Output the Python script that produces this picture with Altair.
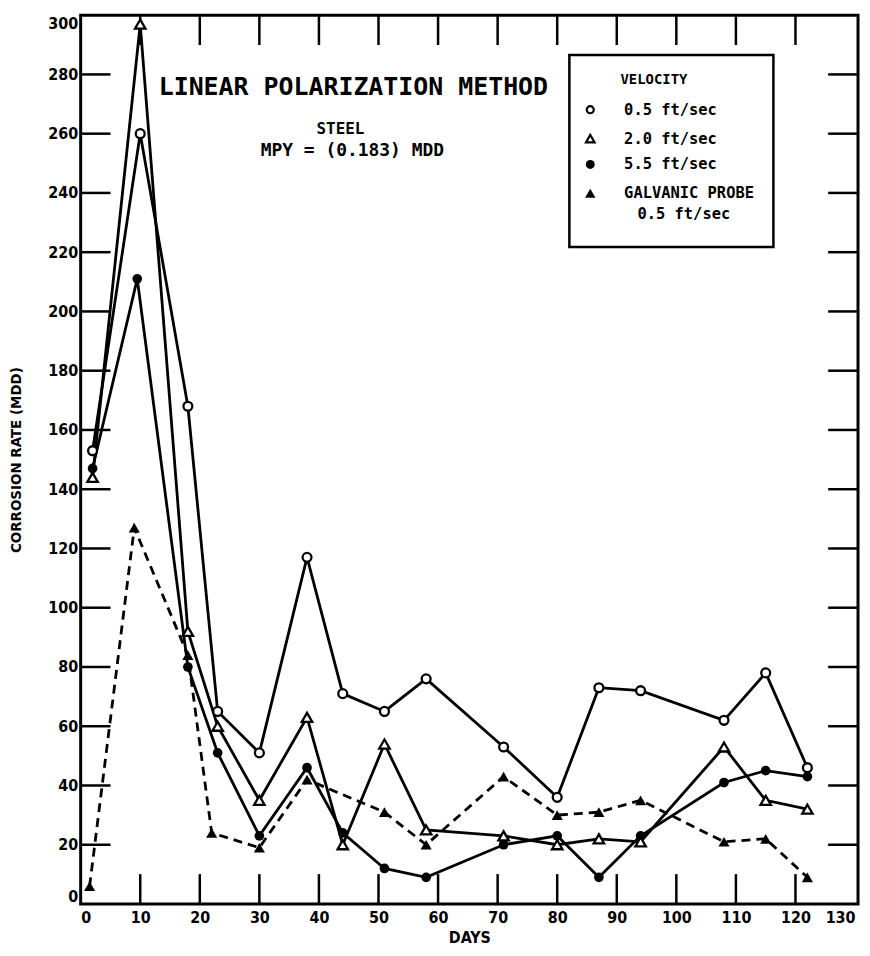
import altair as alt
import pandas as pd

# ---------------- data ----------------
days_05 = [2, 10, 18, 23, 30, 38, 44, 51, 58, 71, 80, 87, 94, 108, 115, 122]
mdd_05 = [153, 260, 168, 65, 51, 117, 71, 65, 76, 53, 36, 73, 72, 62, 78, 46]

days_20 = [2, 10, 18, 23, 30, 38, 44, 51, 58, 71, 80, 87, 94, 108, 115, 122]
mdd_20 = [144, 297, 92, 60, 35, 63, 20, 54, 25, 23, 20, 22, 21, 53, 35, 32]

days_55 = [2, 9.5, 18, 23, 30, 38, 44, 51, 58, 71, 80, 87, 94, 108, 115, 122]
mdd_55 = [147, 211, 80, 51, 23, 46, 24, 12, 9, 20, 23, 9, 23, 41, 45, 43]

days_gp = [1.5, 9, 18, 22, 30, 38, 51, 58, 71, 80, 87, 94, 108, 115, 122]
mdd_gp = [6, 127, 84, 24, 19, 42, 31, 20, 43, 30, 31, 35, 21, 22, 9]

x_labels = list(range(0, 131, 10))
y_labels = list(range(0, 301, 20))
x_inner_ticks = list(range(10, 121, 10))
y_inner_ticks = list(range(20, 281, 20))

title_text = "LINEAR POLARIZATION METHOD"
sub1_text = "STEEL"
sub2_text = "MPY = (0.183) MDD"
legend_title = "VELOCITY"
legend_labels = ["0.5 ft/sec", "2.0 ft/sec", "5.5 ft/sec", "GALVANIC PROBE", "0.5 ft/sec"]

# ---------------- layout ----------------
W, H = 781, 893
TICK = 30
AX_FONT = "DejaVu Sans Condensed, Liberation Sans Narrow, DejaVu Sans"
MONO = "DejaVu Sans Mono"


def X(field):
    return alt.X(
        f"{field}:Q",
        scale=alt.Scale(domain=[0, 130.5], nice=False, zero=False),
        axis=alt.Axis(
            values=x_labels, title="DAYS", grid=False, domain=False, ticks=False,
            tickSize=0, labelPadding=6, labelFlush=6, labelFont=AX_FONT,
            labelFontSize=16, labelFontWeight="bold", labelColor="black",
            titleFont=AX_FONT, titleFontSize=16, titleFontWeight="bold",
            titleColor="black", titlePadding=4,
        ),
    )


def Y(field):
    return alt.Y(
        f"{field}:Q",
        scale=alt.Scale(domain=[0, 300], nice=False),
        axis=alt.Axis(
            values=y_labels, title="CORROSION RATE (MDD)", grid=False, domain=False,
            ticks=False, tickSize=0, labelPadding=3, labelFlush=True, labelFont=AX_FONT,
            labelFontSize=16, labelFontWeight="bold", labelColor="black",
            titleFont=AX_FONT, titleFontSize=15, titleFontWeight="bold",
            titleColor="black", titlePadding=24,
        ),
    )


def series_df(days, vals):
    return pd.DataFrame({"day": days, "mdd": vals})


layers = []

# inner ticks
yt = pd.DataFrame({"v": y_inner_ticks})
xt = pd.DataFrame({"v": x_inner_ticks})
rule_style = dict(color="black", strokeWidth=2.5)
layers.append(alt.Chart(yt).mark_rule(**rule_style).encode(
    y=Y("v"), x=alt.value(0), x2=alt.value(TICK)))
layers.append(alt.Chart(yt).mark_rule(**rule_style).encode(
    y=Y("v"), x=alt.value(W - TICK), x2=alt.value(W)))
layers.append(alt.Chart(xt).mark_rule(**rule_style).encode(
    x=X("v"), y=alt.value(H), y2=alt.value(H - TICK)))
layers.append(alt.Chart(xt).mark_rule(**rule_style).encode(
    x=X("v"), y=alt.value(0), y2=alt.value(TICK)))

# lines
line_w = 2.8
layers.append(alt.Chart(series_df(days_gp, mdd_gp)).mark_line(
    color="black", strokeWidth=2.8, strokeDash=[9, 6]).encode(x=X("day"), y=Y("mdd")))
layers.append(alt.Chart(series_df(days_55, mdd_55)).mark_line(
    color="black", strokeWidth=line_w).encode(x=X("day"), y=Y("mdd")))
layers.append(alt.Chart(series_df(days_20, mdd_20)).mark_line(
    color="black", strokeWidth=line_w).encode(x=X("day"), y=Y("mdd")))
layers.append(alt.Chart(series_df(days_05, mdd_05)).mark_line(
    color="black", strokeWidth=line_w).encode(x=X("day"), y=Y("mdd")))

# markers
layers.append(alt.Chart(series_df(days_gp, mdd_gp)).mark_point(
    shape="triangle-up", filled=True, color="black", size=125, opacity=1).encode(
    x=X("day"), y=Y("mdd")))
layers.append(alt.Chart(series_df(days_55, mdd_55)).mark_point(
    shape="circle", filled=True, color="black", size=95, opacity=1).encode(
    x=X("day"), y=Y("mdd")))
layers.append(alt.Chart(series_df(days_20, mdd_20)).mark_point(
    shape="triangle-up", fill="white", stroke="black", strokeWidth=2.3, size=110,
    opacity=1, fillOpacity=1).encode(x=X("day"), y=Y("mdd")))
layers.append(alt.Chart(series_df(days_05, mdd_05)).mark_point(
    shape="circle", fill="white", stroke="black", strokeWidth=2.3, size=80,
    opacity=1, fillOpacity=1).encode(x=X("day"), y=Y("mdd")))

# annotations
one = pd.DataFrame({"k": [0]})
layers.append(alt.Chart(one).mark_text(
    text=title_text, font=MONO, fontSize=25, fontWeight="bold", color="black",
    align="center", baseline="middle").encode(x=alt.value(274), y=alt.value(72)))
layers.append(alt.Chart(one).mark_text(
    text=sub1_text, font=MONO, fontSize=16, fontWeight="bold", color="black",
    align="center", baseline="middle").encode(x=alt.value(261), y=alt.value(114)))
layers.append(alt.Chart(one).mark_text(
    text=sub2_text, font=MONO, fontSize=18, fontWeight="bold", color="black",
    align="center", baseline="middle").encode(x=alt.value(273), y=alt.value(136)))

# legend box
layers.append(alt.Chart(one).mark_rect(
    fill="white", stroke="black", strokeWidth=2.5).encode(
    x=alt.value(491), x2=alt.value(696), y=alt.value(40), y2=alt.value(233)))
layers.append(alt.Chart(one).mark_text(
    text=legend_title, font=MONO, fontSize=14, fontWeight="bold", color="black",
    align="center", baseline="middle").encode(x=alt.value(576), y=alt.value(65)))

sym_x = 512
sym_ys = [95, 124, 150, 179]
layers.append(alt.Chart(one).mark_point(
    shape="circle", fill="white", stroke="black", strokeWidth=2.2, size=50,
    opacity=1, fillOpacity=1).encode(x=alt.value(sym_x), y=alt.value(sym_ys[0])))
layers.append(alt.Chart(one).mark_point(
    shape="triangle-up", fill="white", stroke="black", strokeWidth=2.2, size=75,
    opacity=1, fillOpacity=1).encode(x=alt.value(sym_x), y=alt.value(sym_ys[1])))
layers.append(alt.Chart(one).mark_point(
    shape="circle", filled=True, color="black", size=80, opacity=1).encode(
    x=alt.value(sym_x), y=alt.value(sym_ys[2])))
layers.append(alt.Chart(one).mark_point(
    shape="triangle-up", filled=True, color="black", size=110, opacity=1).encode(
    x=alt.value(sym_x), y=alt.value(sym_ys[3])))

for i, yy in enumerate(sym_ys):
    layers.append(alt.Chart(one).mark_text(
        text=legend_labels[i], font=MONO, fontSize=15.5, fontWeight="bold",
        color="black", align="left", baseline="middle").encode(
        x=alt.value(546), y=alt.value(yy)))
layers.append(alt.Chart(one).mark_text(
    text=legend_labels[4], font=MONO, fontSize=15.5, fontWeight="bold",
    color="black", align="center", baseline="middle").encode(
    x=alt.value(606), y=alt.value(200)))

chart = alt.layer(*layers).properties(
    width=W, height=H,
    autosize=alt.AutoSizeParams(type="none"),
    padding={"left": 73, "top": 5, "right": 4, "bottom": 42},
    background="white",
).configure_view(stroke="black", strokeWidth=3)

chart.save("out.html", embed_options={"renderer": "svg", "actions": False})
